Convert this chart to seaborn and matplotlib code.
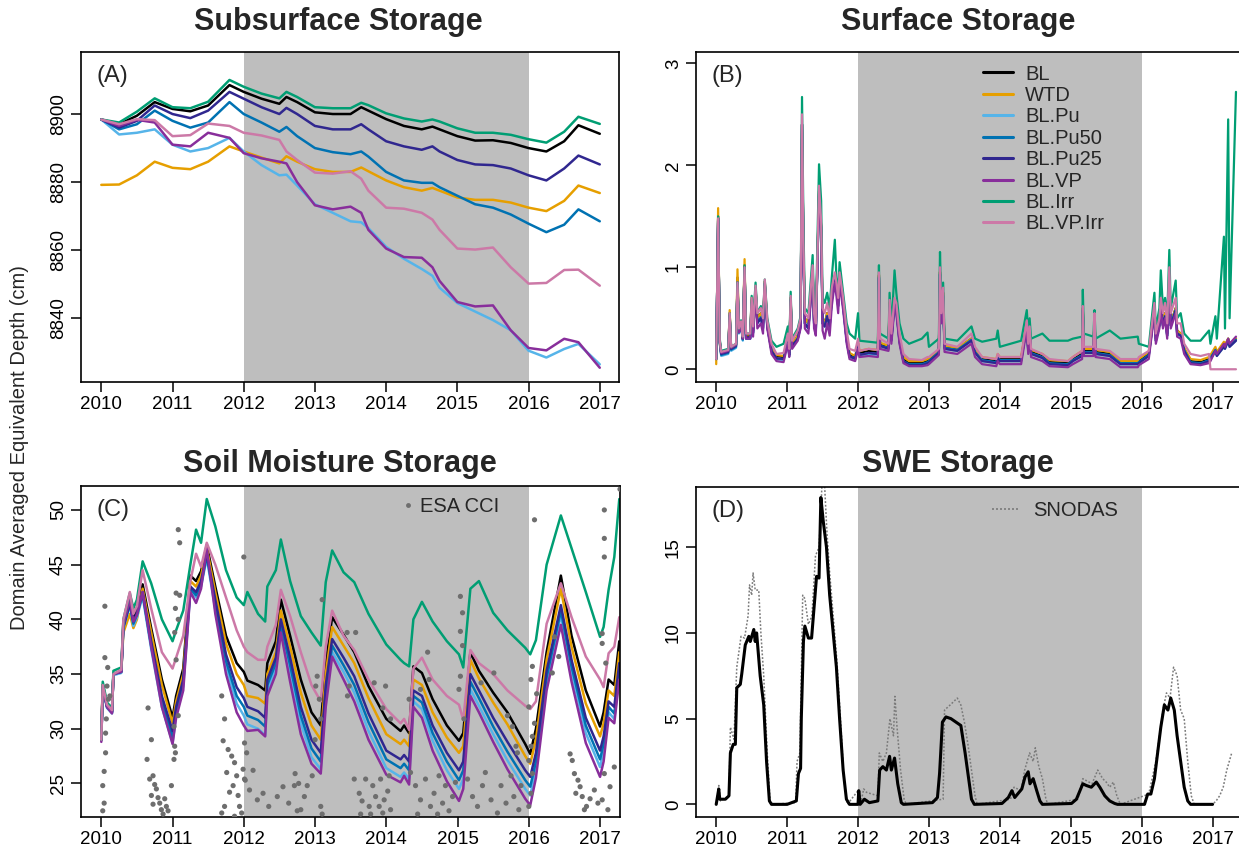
import numpy as np
import matplotlib
matplotlib.use("Agg")
import matplotlib.pyplot as plt
import seaborn as sns
from matplotlib.lines import Line2D

# ---------------- data ----------------
names = ["BL", "WTD", "BL.Pu", "BL.Pu50", "BL.Pu25", "BL.VP", "BL.Irr", "BL.VP.Irr"]
colors = ["black", "#E69F00", "#56B4E9", "#0072B2", "#30278F", "#882E9B", "#009E73", "#CC79A7"]

# (A) subsurface storage
t_sub = [2010.0, 2010.25, 2010.5, 2010.75, 2011.0, 2011.25, 2011.5, 2011.8, 2012.0, 2012.25,
         2012.5, 2012.6, 2012.75, 2013.0, 2013.25, 2013.5, 2013.65, 2013.75, 2014.0, 2014.25,
         2014.5, 2014.65, 2014.75, 2015.0, 2015.25, 2015.5, 2015.75, 2016.0, 2016.25, 2016.5,
         2016.7, 2017.0]
sub_bl = [8898.4, 8897.0, 8899.5, 8903.5, 8901.5, 8900.8, 8902.5, 8908.5, 8906.5, 8904.5,
          8903.0, 8905.0, 8903.5, 8900.5, 8900.0, 8900.0, 8902.0, 8901.0, 8898.5, 8896.5,
          8895.5, 8896.3, 8895.5, 8893.5, 8892.2, 8892.3, 8891.5, 8890.0, 8889.0, 8892.0,
          8896.7, 8894.2]
sub_wtd = [8879.2, 8879.3, 8882.0, 8886.0, 8884.2, 8883.8, 8886.0, 8890.5, 8889.0, 8887.2,
           8885.5, 8887.6, 8886.0, 8883.8, 8883.0, 8883.0, 8884.3, 8883.2, 8880.5, 8878.5,
           8877.5, 8878.3, 8877.5, 8875.5, 8874.8, 8874.8, 8874.0, 8872.5, 8871.5, 8874.5,
           8879.0, 8876.8]
sub_pu = [8898.4, 8894.0, 8894.5, 8895.5, 8891.0, 8889.0, 8890.0, 8893.0, 8889.0, 8885.0,
          8882.0, 8882.2, 8879.0, 8873.5, 8871.0, 8868.5, 8868.2, 8866.5, 8861.0, 8857.5,
          8854.5, 8852.5, 8849.0, 8844.5, 8842.0, 8839.5, 8836.5, 8830.5, 8828.5, 8831.0,
          8832.5, 8826.5]
sub_pu50 = [8898.4, 8895.5, 8897.0, 8901.0, 8898.0, 8896.0, 8897.5, 8903.5, 8900.0, 8897.5,
            8894.8, 8896.2, 8893.5, 8890.0, 8888.8, 8888.2, 8889.0, 8887.5, 8883.0, 8880.5,
            8879.8, 8879.8, 8878.5, 8876.0, 8873.5, 8872.5, 8870.5, 8867.8, 8865.3, 8867.5,
            8872.0, 8868.5]
sub_pu25 = [8898.4, 8896.0, 8898.0, 8902.5, 8900.0, 8898.8, 8901.0, 8906.5, 8904.5, 8902.0,
            8900.0, 8901.8, 8900.0, 8896.5, 8895.5, 8895.5, 8897.0, 8895.5, 8892.0, 8890.5,
            8889.5, 8890.5, 8889.0, 8886.5, 8885.2, 8885.0, 8884.0, 8882.0, 8880.5, 8884.0,
            8887.8, 8885.2]
sub_vp = [8898.4, 8896.5, 8898.3, 8897.5, 8891.0, 8890.5, 8894.5, 8893.0, 8888.5, 8887.0,
          8886.0, 8885.5, 8880.0, 8873.2, 8872.0, 8872.8, 8871.0, 8866.0, 8860.5, 8858.0,
          8857.8, 8855.0, 8851.0, 8844.8, 8843.5, 8843.8, 8836.5, 8831.3, 8830.6, 8834.0,
          8833.0, 8825.5]
sub_irr = [8898.4, 8897.5, 8900.7, 8904.6, 8902.0, 8901.7, 8903.6, 8910.0, 8908.0, 8906.0,
           8904.6, 8906.5, 8905.0, 8902.0, 8901.7, 8901.7, 8903.3, 8902.6, 8900.2, 8898.7,
           8897.8, 8898.4, 8897.8, 8895.8, 8894.5, 8894.5, 8893.9, 8892.6, 8891.6, 8894.8,
           8899.2, 8897.1]
sub_vpirr = [8898.4, 8897.0, 8898.5, 8898.2, 8893.5, 8893.8, 8897.2, 8896.5, 8894.5, 8893.7,
             8892.4, 8889.0, 8886.5, 8882.8, 8882.5, 8883.2, 8881.0, 8877.5, 8872.5, 8872.2,
             8871.0, 8869.0, 8866.0, 8860.5, 8860.2, 8860.8, 8855.0, 8850.2, 8850.4, 8854.2,
             8854.3, 8849.6]

# (B) surface storage
t_surf = [2010.000, 2010.027, 2010.050, 2010.070, 2010.170, 2010.190, 2010.210, 2010.280, 2010.300, 2010.320,
          2010.350, 2010.375, 2010.400, 2010.420, 2010.480, 2010.500, 2010.520, 2010.555, 2010.580, 2010.630,
          2010.660, 2010.685, 2010.720, 2010.780, 2010.850, 2010.950, 2011.010, 2011.030, 2011.050, 2011.070,
          2011.150, 2011.190, 2011.210, 2011.230, 2011.250, 2011.300, 2011.360, 2011.380, 2011.405, 2011.450,
          2011.480, 2011.500, 2011.530, 2011.565, 2011.600, 2011.630, 2011.673, 2011.695, 2011.720, 2011.740,
          2011.790, 2011.840, 2011.880, 2011.960, 2012.000, 2012.020, 2012.150, 2012.280, 2012.295, 2012.310,
          2012.430, 2012.445, 2012.470, 2012.515, 2012.540, 2012.585, 2012.640, 2012.720, 2012.900, 2012.980,
          2013.000, 2013.140, 2013.156, 2013.175, 2013.200, 2013.220, 2013.400, 2013.600, 2013.650, 2013.750,
          2013.950, 2013.970, 2014.000, 2014.300, 2014.380, 2014.400, 2014.420, 2014.440, 2014.600, 2014.700,
          2014.960, 2015.030, 2015.160, 2015.170, 2015.185, 2015.320, 2015.335, 2015.350, 2015.550, 2015.700,
          2015.945, 2015.960, 2016.100, 2016.180, 2016.200, 2016.250, 2016.270, 2016.300, 2016.330, 2016.360,
          2016.390, 2016.410, 2016.480, 2016.500, 2016.550, 2016.600, 2016.690, 2016.830, 2016.950, 2016.970,
          2017.040, 2017.060, 2017.160, 2017.175, 2017.220, 2017.240, 2017.330]
surf_bl = [.10, 1.50, .28, .16, .18, .55, .21, .24, .90, .38,
           .45, .30, 1.02, .33, .33, .68, .38, .80, .50, .55,
           .45, .86, .45, .20, .13, .12, .30, .16, .70, .24,
           .33, .45, 2.40, 1.20, .50, .45, .98, .48, .40, 1.75,
           1.40, .50, .45, .55, .45, .70, .90, .80, .65, .92,
           .65, .32, .15, .12, .25, .16, .18, .17, .92, .25,
           .22, .65, .30, .68, .60, .30, .10, .06, .06, .08,
           .09, .18, .95, .50, .75, .22, .20, .30, .18, .10,
           .08, .13, .10, .10, .45, .20, .38, .17, .13, .07,
           .06, .10, .15, .60, .18, .18, .50, .17, .15, .06,
           .06, .08, .15, .60, .30, .45, .65, .45, .55, .35,
           .85, .45, .60, .38, .35, .20, .08, .07, .10, .12,
           .20, .15, .25, .22, .30, .25, .30]
surf_wtd = [.05, 1.58, .25, .15, .17, .58, .21, .24, .98, .40,
            .47, .32, 1.08, .34, .34, .70, .40, .80, .50, .55,
            .45, .86, .45, .20, .14, .13, .30, .17, .70, .25,
            .33, .45, 2.40, 1.20, .50, .45, .98, .48, .40, 1.75,
            1.40, .50, .45, .55, .45, .70, .90, .80, .65, .92,
            .65, .32, .16, .13, .26, .18, .20, .19, .93, .26,
            .23, .66, .31, .68, .60, .30, .12, .08, .08, .10,
            .11, .19, .96, .50, .75, .23, .21, .30, .19, .12,
            .10, .15, .12, .12, .46, .22, .39, .19, .15, .09,
            .08, .12, .18, .60, .20, .20, .50, .19, .17, .08,
            .08, .10, .17, .60, .30, .45, .65, .45, .55, .35,
            .85, .45, .60, .38, .35, .21, .10, .09, .12, .14,
            .22, .17, .27, .24, .30, .25, .30]
surf_pu = [.10, 1.48, .25, .13, .15, .52, .18, .21, .85, .35,
           .42, .28, 1.00, .30, .30, .65, .35, .78, .45, .50,
           .40, .84, .42, .18, .10, .09, .28, .13, .68, .22,
           .30, .42, 2.40, 1.15, .45, .40, .95, .45, .37, 1.72,
           1.38, .45, .42, .52, .42, .68, .88, .78, .62, .90,
           .62, .28, .12, .10, .22, .13, .15, .14, .90, .22,
           .20, .62, .28, .65, .58, .27, .08, .04, .04, .06,
           .07, .16, .93, .48, .72, .20, .18, .28, .16, .08,
           .06, .11, .08, .08, .43, .18, .36, .15, .11, .05,
           .04, .08, .13, .58, .16, .16, .48, .15, .13, .05,
           .05, .06, .13, .58, .28, .43, .62, .43, .52, .33,
           .82, .43, .58, .35, .33, .18, .06, .05, .08, .10,
           .18, .13, .22, .20, .28, .22, .28]
surf_pu50 = [.10, 1.48, .26, .14, .16, .52, .19, .22, .85, .36,
             .43, .29, 1.00, .30, .30, .65, .36, .78, .46, .51,
             .41, .84, .42, .18, .10, .10, .28, .14, .68, .22,
             .30, .42, 2.40, 1.15, .45, .40, .95, .45, .37, 1.72,
             1.38, .45, .42, .52, .42, .68, .88, .78, .62, .90,
             .62, .28, .12, .11, .22, .14, .16, .15, .90, .23,
             .21, .62, .29, .65, .58, .28, .08, .05, .05, .07,
             .08, .17, .93, .48, .72, .21, .19, .29, .17, .09,
             .07, .12, .09, .09, .43, .19, .37, .16, .12, .06,
             .05, .09, .14, .58, .17, .17, .48, .16, .14, .06,
             .06, .07, .14, .58, .28, .43, .62, .43, .52, .33,
             .82, .43, .58, .35, .33, .19, .07, .06, .09, .11,
             .19, .14, .23, .21, .28, .23, .29]
surf_pu25 = [.10, 1.48, .27, .15, .17, .53, .20, .23, .85, .38,
             .44, .30, 1.00, .31, .31, .66, .36, .78, .45, .50,
             .40, .84, .42, .18, .11, .10, .28, .14, .68, .23,
             .30, .42, 2.40, 1.15, .45, .40, .95, .45, .37, 1.72,
             1.38, .45, .42, .52, .42, .68, .88, .78, .62, .90,
             .62, .28, .13, .10, .23, .14, .16, .15, .90, .23,
             .20, .62, .28, .65, .58, .27, .08, .04, .04, .06,
             .07, .16, .93, .48, .72, .20, .18, .28, .16, .08,
             .06, .11, .08, .08, .43, .18, .36, .15, .11, .05,
             .04, .08, .13, .58, .16, .16, .48, .15, .13, .05,
             .05, .06, .13, .58, .28, .43, .62, .43, .52, .33,
             .82, .43, .58, .35, .33, .18, .06, .05, .08, .10,
             .18, .13, .22, .20, .28, .22, .28]
surf_vp = [.10, 1.48, .27, .16, .18, .52, .21, .24, .82, .36,
           .43, .30, .98, .30, .30, .64, .32, .75, .40, .45,
           .35, .82, .40, .15, .08, .07, .25, .12, .66, .20,
           .28, .40, 2.40, 1.10, .40, .35, .92, .40, .33, 1.70,
           1.35, .38, .30, .45, .33, .62, .85, .72, .55, .85,
           .58, .25, .10, .08, .20, .12, .13, .12, .88, .20,
           .18, .60, .25, .62, .55, .25, .06, .03, .03, .04,
           .05, .14, .90, .45, .70, .17, .15, .25, .12, .05,
           .03, .08, .05, .05, .40, .15, .33, .12, .08, .03,
           .02, .05, .10, .55, .13, .13, .45, .12, .10, .02,
           .02, .04, .10, .55, .25, .40, .60, .40, .50, .30,
           .80, .40, .55, .32, .30, .15, .05, .04, .06, .08,
           .18, .15, .25, .22, .30, .25, .32]
surf_irr = [.10, 1.50, .30, .18, .20, .55, .22, .25, .85, .40,
            .48, .32, 1.02, .35, .35, .72, .45, .85, .55, .62,
            .50, .88, .50, .28, .22, .25, .42, .22, .76, .30,
            .40, .52, 2.67, 1.45, .60, .55, 1.12, .60, .50, 2.01,
            1.65, .70, .65, .75, .60, .90, 1.27, .90, .75, 1.05,
            .75, .45, .35, .30, .55, .28, .27, .26, 1.02, .35,
            .30, .75, .40, .97, .75, .45, .30, .25, .30, .36,
            .22, .30, 1.15, .60, .85, .30, .28, .42, .30, .27,
            .30, .38, .22, .28, .58, .35, .50, .30, .35, .28,
            .28, .30, .32, .78, .35, .32, .58, .30, .38, .30,
            .32, .25, .22, .75, .40, .60, .97, .60, .70, .50,
            1.17, .60, .87, .50, .55, .35, .28, .28, .38, .25,
            .52, .30, 1.30, .40, 2.45, .50, 2.72]
surf_vpirr = [.10, 1.48, .28, .17, .19, .55, .22, .25, .85, .40,
              .47, .32, 1.00, .35, .35, .70, .42, .82, .55, .60,
              .50, .88, .48, .25, .15, .16, .35, .20, .72, .28,
              .38, .50, 2.50, 1.25, .55, .50, 1.02, .55, .45, 1.80,
              1.45, .60, .55, .65, .50, .80, .95, .85, .70, .95,
              .70, .38, .20, .18, .30, .18, .20, .19, .95, .30,
              .25, .68, .35, .70, .65, .35, .15, .10, .09, .12,
              .12, .20, 1.00, .55, .80, .25, .22, .35, .22, .12,
              .10, .15, .12, .12, .48, .25, .42, .20, .15, .10,
              .08, .12, .18, .62, .22, .22, .55, .20, .18, .10,
              .10, .12, .18, .65, .35, .50, .70, .55, .65, .45,
              1.00, .55, .70, .45, .45, .25, .15, .13, .15, .00,
              .00, .00, .00, .00, .00, .00, .00]

# (C) soil moisture storage
t_soil = [2010.00, 2010.02, 2010.08, 2010.15, 2010.17, 2010.28, 2010.31, 2010.40, 2010.45, 2010.50,
          2010.58, 2010.70, 2010.85, 2011.00, 2011.05, 2011.15, 2011.25, 2011.33, 2011.40, 2011.48,
          2011.60, 2011.75, 2011.90, 2012.00, 2012.05, 2012.20, 2012.30, 2012.33, 2012.45, 2012.52,
          2012.65, 2012.80, 2012.95, 2013.08, 2013.15, 2013.24, 2013.40, 2013.55, 2013.75, 2014.00,
          2014.20, 2014.25, 2014.32, 2014.38, 2014.50, 2014.65, 2014.85, 2015.02, 2015.08, 2015.18,
          2015.30, 2015.50, 2015.70, 2015.95, 2016.02, 2016.10, 2016.25, 2016.45, 2016.60, 2016.80,
          2017.00, 2017.05, 2017.12, 2017.20, 2017.27]
soil_bl = [29.0, 34.0, 32.2, 31.6, 35.0, 35.3, 39.8, 42.0, 40.2, 41.0,
           43.2, 39.2, 34.5, 31.0, 33.0, 35.5, 44.0, 43.5, 44.4, 46.8,
           43.0, 38.5, 36.0, 35.2, 34.4, 34.0, 33.5, 36.0, 38.0, 41.8,
           38.5, 34.5, 31.5, 30.3, 36.0, 40.2, 38.6, 37.0, 33.9, 30.9,
           29.8, 30.3, 29.6, 35.7, 35.1, 32.7, 30.3, 28.9, 29.6, 37.0,
           35.3, 33.3, 31.5, 28.6, 27.7, 30.0, 37.0, 44.0, 38.5, 33.5,
           30.2, 31.5, 34.5, 34.0, 38.0]
soil_wtd = [29.5, 34.0, 32.2, 31.6, 35.0, 35.2, 38.8, 40.5, 39.2, 40.0,
            42.8, 38.8, 34.0, 30.5, 32.5, 35.0, 43.5, 43.0, 44.0, 46.5,
            42.5, 37.8, 35.0, 34.0, 33.0, 32.8, 32.3, 35.0, 37.0, 40.8,
            37.5, 33.3, 30.3, 29.0, 35.0, 39.3, 37.6, 36.0, 32.8, 29.5,
            28.6, 29.0, 28.4, 34.5, 34.0, 31.5, 29.2, 27.8, 28.4, 36.3,
            34.6, 32.4, 30.4, 27.5, 26.8, 29.0, 36.3, 42.8, 37.5, 32.3,
            29.3, 30.5, 33.5, 33.0, 37.0]
soil_pu = [29.0, 33.7, 31.9, 31.4, 34.9, 35.1, 39.2, 41.3, 39.4, 40.2,
           42.1, 37.3, 32.0, 28.7, 31.2, 33.9, 42.6, 42.0, 43.0, 45.6,
           40.9, 35.7, 32.3, 31.2, 30.4, 30.0, 29.4, 33.5, 35.6, 39.1,
           35.2, 30.5, 27.4, 26.3, 32.7, 37.0, 35.2, 33.3, 29.8, 26.4,
           25.6, 26.0, 25.4, 32.5, 31.8, 28.9, 26.2, 24.5, 25.4, 33.6,
           32.1, 29.5, 27.1, 24.5, 23.9, 26.3, 34.1, 40.4, 35.1, 29.6,
           26.5, 28.0, 31.5, 30.9, 35.0]
soil_pu50 = [29.0, 33.8, 32.0, 31.5, 35.0, 35.2, 39.3, 41.4, 39.6, 40.4,
             42.3, 37.6, 32.5, 29.2, 31.6, 34.2, 42.8, 42.2, 43.2, 45.8,
             41.3, 36.2, 33.0, 32.0, 31.2, 30.8, 30.2, 34.0, 36.0, 39.5,
             35.8, 31.2, 28.2, 27.0, 33.3, 37.6, 35.8, 34.0, 30.6, 27.2,
             26.4, 26.8, 26.2, 33.0, 32.4, 29.6, 27.0, 25.3, 26.2, 34.3,
             32.8, 30.2, 27.9, 25.3, 24.7, 27.0, 34.7, 40.8, 35.7, 30.3,
             27.2, 28.6, 32.0, 31.4, 35.4]
soil_pu25 = [29.0, 33.8, 32.0, 31.5, 35.0, 35.2, 39.3, 41.5, 39.8, 40.6,
             42.5, 38.0, 33.0, 29.8, 32.0, 34.5, 43.0, 42.5, 43.5, 46.0,
             41.8, 36.8, 33.8, 32.8, 32.0, 31.6, 31.0, 34.5, 36.5, 40.0,
             36.5, 32.0, 29.0, 27.8, 34.0, 38.2, 36.5, 34.8, 31.4, 28.0,
             27.2, 27.6, 27.0, 33.5, 33.0, 30.3, 27.8, 26.2, 27.0, 35.0,
             33.5, 31.0, 28.8, 26.2, 25.6, 27.8, 35.3, 41.3, 36.3, 31.0,
             28.0, 29.3, 32.5, 32.0, 36.0]
soil_vp = [28.8, 33.8, 32.0, 31.4, 35.0, 35.2, 39.5, 41.8, 39.8, 40.4,
           42.5, 37.5, 32.0, 28.6, 31.0, 33.5, 42.5, 41.5, 42.8, 46.5,
           40.5, 35.0, 31.5, 30.3, 29.8, 29.9, 29.3, 33.0, 35.0, 38.8,
           34.3, 29.5, 26.8, 25.9, 32.0, 36.6, 34.5, 32.5, 29.0, 25.8,
           25.1, 25.7, 24.9, 32.0, 31.0, 28.0, 25.2, 23.4, 24.5, 33.0,
           31.5, 28.8, 26.3, 23.6, 23.0, 25.5, 33.5, 39.5, 34.3, 28.7,
           25.6, 27.0, 31.0, 30.5, 34.5]
soil_irr = [29.0, 34.3, 32.4, 31.9, 35.3, 35.6, 40.0, 42.4, 41.0, 41.8,
            45.3, 43.3, 40.0, 38.0, 39.0, 40.8, 45.0, 48.2, 47.0, 51.0,
            48.5, 44.5, 42.0, 41.3, 42.5, 40.5, 39.8, 43.0, 44.5, 47.3,
            43.5, 40.3, 38.8, 37.6, 43.4, 46.3, 44.3, 43.4, 40.5, 37.7,
            36.3, 36.0, 35.7, 40.0, 41.6, 39.8, 38.0, 36.8, 35.6, 42.8,
            43.5, 40.6, 39.0, 37.4, 36.8, 38.1, 45.0, 49.5, 46.5, 42.5,
            38.4, 39.3, 42.7, 45.7, 51.0]
soil_vpirr = [29.0, 34.0, 32.2, 31.7, 35.0, 35.4, 40.0, 42.5, 40.5, 41.2,
              44.5, 41.0, 37.0, 35.5, 36.5, 38.5, 43.5, 46.0, 44.8, 47.0,
              45.0, 42.0, 39.0, 37.5, 37.0, 36.3, 36.3, 37.5, 39.5, 42.7,
              40.3, 37.0, 34.0, 32.5, 37.5, 40.8, 38.5, 37.2, 34.5, 31.8,
              30.5, 30.9, 29.9, 35.5, 36.5, 34.5, 33.0, 32.2, 30.8, 37.2,
              36.0, 35.0, 33.5, 32.1, 31.8, 32.5, 39.6, 43.3, 40.2, 36.6,
              34.5, 33.8, 36.9, 37.5, 40.2]

# ESA CCI satellite soil moisture
esa_t = [2010.05, 2010.05, 2010.09, 2010.08, 2010.10, 2010.07, 2010.06, 2010.06, 2010.04, 2010.02,
         2010.04, 2010.02, 2010.12,
         2010.656, 2010.703, 2010.642, 2010.726, 2010.679, 2010.749, 2010.773, 2010.703, 2010.796, 2010.82,
         2010.726, 2010.843, 2010.89, 2010.913, 2010.937, 2010.867, 2010.984, 2011.02, 2011.04, 2011.03,
         2011.05, 2011.10, 2011.08, 2011.10, 2011.04, 2011.08, 2011.03, 2011.05, 2011.08, 2011.02,
         2011.69, 2011.73, 2011.71, 2011.78, 2011.83, 2011.87, 2011.90, 2011.85, 2011.92, 2011.94,
         2011.97, 2011.76, 2011.80, 2011.73, 2011.69, 2011.87,
         2012.00, 2012.01, 2012.04, 2011.99, 2012.01, 2012.02, 2012.08, 2012.13, 2012.19, 2012.27,
         2012.35, 2012.47, 2012.55, 2012.63, 2012.72, 2012.77, 2012.80,
         2013.10, 2013.03, 2013.01, 2013.06, 2013.08, 2013.00, 2012.96, 2012.89, 2012.85, 2012.75,
         2013.08, 2013.10, 2012.71,
         2013.45, 2013.57, 2013.455, 2013.48, 2013.83, 2013.95, 2013.99, 2014.06,
         2013.55, 2013.62, 2013.66, 2013.71, 2013.76, 2013.81, 2013.85, 2013.90, 2013.92, 2013.97,
         2014.02, 2014.06, 2013.64, 2013.78, 2013.95, 2014.04,
         2014.32, 2014.58, 2014.60, 2014.48, 2014.34, 2014.41, 2014.48, 2014.55, 2014.62, 2014.67,
         2014.74, 2014.79, 2014.83, 2014.88, 2014.93, 2014.97, 2014.44, 2014.72,
         2015.04, 2015.07, 2015.04, 2015.07, 2015.04, 2015.02, 2015.09,
         2015.33, 2015.51, 2015.70, 2015.77, 2015.82, 2015.84,
         2015.14, 2015.21, 2015.28, 2015.35, 2015.39, 2015.47, 2015.56, 2015.61, 2015.68, 2015.75,
         2015.79, 2015.86, 2015.89,
         2016.08, 2016.05, 2016.03, 2016.11, 2016.00, 2016.08, 2016.05, 2016.03, 2016.00, 2016.05,
         2016.03, 2016.00, 2016.36, 2016.42, 2016.33,
         2016.58, 2016.61, 2016.64, 2016.69, 2016.75, 2016.81, 2016.86, 2016.66, 2016.72, 2016.78,
         2016.92, 2016.97,
         2017.06, 2017.06, 2017.06, 2017.03, 2017.03, 2017.08, 2017.06, 2017.03, 2017.11, 2017.28,
         2017.14, 2017.20]
esa_v = [41.2, 36.5, 35.6, 33.9, 32.7, 30.9, 29.6, 27.8, 26.1, 24.8,
         23.2, 22.5, 33.0,
         31.9, 29.0, 27.2, 25.7, 25.4, 24.9, 24.5, 23.9, 23.7, 23.2,
         23.1, 22.6, 23.6, 22.9, 22.5, 22.2, 24.8, 27.2, 27.8, 28.4,
         42.4, 42.2, 48.2, 47.0, 41.0, 40.0, 38.8, 36.3, 31.2, 30.2,
         33.0, 30.9, 28.9, 28.1, 27.5, 26.9, 25.7, 24.8, 23.9, 22.9,
         22.3, 26.0, 24.2, 22.9, 22.3, 22.0,
         45.7, 28.7, 27.8, 26.3, 25.4, 25.3, 24.4, 26.2, 23.5, 24.1,
         22.9, 23.8, 24.7, 23.2, 25.9, 25.0, 22.6,
         41.8, 34.8, 33.9, 32.7, 30.9, 29.0, 25.7, 24.8, 23.8, 22.5,
         22.9, 22.2, 24.8,
         38.8, 38.8, 33.0, 33.9, 34.2, 31.9, 33.9, 30.9,
         25.4, 24.1, 23.4, 25.4, 22.9, 24.8, 23.8, 22.9, 25.4, 23.5,
         24.3, 22.6, 22.2, 22.2, 22.3, 25.7,
         32.7, 37.0, 34.5, 33.6, 26.0, 24.8, 23.5, 25.4, 22.9, 24.1,
         25.7, 23.2, 24.8, 22.5, 23.8, 25.1, 22.2, 22.2,
         42.1, 40.6, 38.9, 37.6, 34.8, 33.6, 30.9,
         34.2, 35.1, 31.2, 30.2, 28.4, 27.8,
         25.4, 23.8, 22.9, 24.8, 26.0, 23.5, 22.3, 24.8, 23.2, 25.7,
         23.8, 22.6, 24.8,
         49.1, 35.7, 34.5, 33.2, 32.0, 30.5, 29.3, 28.4, 27.1, 25.9,
         24.1, 22.9, 38.4, 36.6, 35.1,
         27.7, 27.1, 25.9, 25.3, 23.8, 22.9, 23.6, 24.1, 24.7, 22.6,
         24.4, 23.2,
         50.0, 47.4, 45.7, 38.7, 37.8, 36.0, 25.9, 23.5, 22.6, 51.9,
         24.7, 26.5]

# (D) snow water equivalent
t_swe = [2010.00, 2010.036, 2010.05, 2010.13, 2010.18, 2010.20, 2010.24, 2010.27, 2010.29, 2010.34,
         2010.36, 2010.41, 2010.46, 2010.48, 2010.53, 2010.55, 2010.57, 2010.60, 2010.62, 2010.67,
         2010.71, 2010.75, 2010.78, 2011.00, 2011.13, 2011.16, 2011.19, 2011.20, 2011.23, 2011.25,
         2011.30, 2011.345, 2011.39, 2011.415, 2011.45, 2011.476, 2011.51, 2011.555, 2011.60, 2011.65,
         2011.695, 2011.74, 2011.79, 2011.836, 2011.88, 2012.00, 2012.01, 2012.03, 2012.09, 2012.16,
         2012.28, 2012.305, 2012.35, 2012.40, 2012.445, 2012.47, 2012.515, 2012.56, 2012.61, 2012.64,
         2013.05, 2013.12, 2013.15, 2013.19, 2013.24, 2013.31, 2013.38, 2013.45, 2013.51, 2013.56,
         2013.60, 2013.64, 2014.03, 2014.12, 2014.17, 2014.21, 2014.31, 2014.355, 2014.40, 2014.425,
         2014.47, 2014.52, 2014.565, 2014.60, 2015.01, 2015.08, 2015.17, 2015.22, 2015.29, 2015.36,
         2015.41, 2015.48, 2015.55, 2015.62, 2015.66, 2016.04, 2016.085, 2016.13, 2016.18, 2016.225,
         2016.27, 2016.32, 2016.37, 2016.41, 2016.46, 2016.50, 2016.55, 2016.60, 2016.65, 2016.69,
         2017.00]
swe_bl = [0, 0.9, 0.3, 0.3, 0.5, 3.0, 3.5, 3.5, 6.8, 7.0,
          7.6, 9.3, 9.8, 9.5, 10.2, 9.5, 10.0, 8.5, 7.5, 5.8,
          2.5, 0.2, 0, 0, 0.2, 1.8, 2.1, 5.0, 9.5, 10.4,
          9.7, 9.7, 12.0, 13.3, 13.2, 17.9, 16.5, 15.0, 12.2, 10.0,
          8.0, 5.0, 2.0, 0.3, 0, 0, 0.8, 0, 0.3, 0.1,
          0.2, 2.0, 2.2, 2.0, 2.8, 2.0, 2.7, 1.2, 0.1, 0,
          0.1, 0.4, 1.8, 4.8, 5.1, 5.0, 4.8, 4.6, 3.0, 1.5,
          0.3, 0, 0.05, 0.4, 0.8, 0.4, 0.9, 1.6, 1.9, 1.2,
          1.5, 0.8, 0.2, 0, 0.05, 0.3, 1.2, 1.1, 1.0, 1.3,
          1.0, 0.5, 0.2, 0.05, 0, 0, 0.6, 0.6, 1.5, 3.0,
          4.5, 5.8, 5.5, 6.2, 5.5, 4.0, 2.5, 1.0, 0.2, 0,
          0]
t_snodas = [2010.00, 2010.036, 2010.06, 2010.18, 2010.20, 2010.25, 2010.29, 2010.35, 2010.40, 2010.45,
            2010.47, 2010.50, 2010.52, 2010.55, 2010.60, 2010.63, 2010.67, 2010.72, 2010.76, 2010.80,
            2011.12, 2011.14, 2011.18, 2011.22, 2011.25, 2011.30, 2011.35, 2011.40, 2011.45, 2011.49,
            2011.53, 2011.56, 2011.60, 2011.65, 2011.70, 2011.76, 2011.80, 2011.85, 2012.00, 2012.05,
            2012.08, 2012.12, 2012.20, 2012.28, 2012.30, 2012.35, 2012.40, 2012.45, 2012.50, 2012.52,
            2012.55, 2012.60, 2012.65, 2012.68, 2013.20, 2013.22, 2013.30, 2013.40, 2013.45, 2013.50,
            2013.55, 2013.60, 2013.65, 2013.68, 2014.15, 2014.20, 2014.30, 2014.35, 2014.42, 2014.47,
            2014.50, 2014.55, 2014.60, 2014.65, 2014.68, 2015.10, 2015.17, 2015.30, 2015.38, 2015.45,
            2015.50, 2015.55, 2015.60, 2015.65, 2015.70, 2016.10, 2016.20, 2016.30, 2016.35, 2016.40,
            2016.45, 2016.50, 2016.55, 2016.60, 2016.65, 2016.70, 2016.74, 2017.00, 2017.05, 2017.10,
            2017.15, 2017.20, 2017.27]
snodas = [0, 1.1, 0.2, 0.5, 4.5, 3.8, 8.0, 9.8, 9.7, 11.0,
          12.8, 12.2, 13.5, 12.5, 12.5, 10.0, 7.5, 3.0, 0.2, 0,
          0.1, 2.5, 3.0, 12.2, 12.0, 10.5, 11.0, 14.5, 15.0, 18.5,
          18.5, 16.0, 13.5, 11.0, 8.5, 4.5, 1.5, 0, 0.8, 0.3,
          0.9, 0.7, 0.6, 0.5, 3.0, 2.5, 3.0, 5.0, 4.0, 6.3,
          4.5, 2.0, 0.3, 0, 0.3, 5.5, 5.8, 6.2, 5.8, 4.8,
          3.5, 2.0, 0.5, 0, 0.3, 1.0, 0.8, 2.0, 3.0, 2.5,
          3.3, 2.2, 1.5, 0.3, 0, 0.3, 1.5, 1.2, 2.0, 1.5,
          1.3, 1.0, 1.3, 0.5, 0, 0.6, 2.5, 5.5, 6.5, 6.2,
          8.0, 7.5, 5.5, 5.0, 2.5, 0.5, 0, 0, 0.2, 0.5,
          1.0, 2.0, 3.0]

# ---------------- plotting ----------------
sns.set_style("ticks")
plt.rcParams['font.family'] = ['Liberation Sans', 'DejaVu Sans']
plt.rcParams.update({
    'axes.edgecolor': 'black', 'axes.linewidth': 1.2,
    'xtick.color': 'black', 'ytick.color': 'black',
    'xtick.major.size': 7, 'ytick.major.size': 7,
    'xtick.major.width': 1.1, 'ytick.major.width': 1.1,
})

W, H = 1239, 849
fig = plt.figure(figsize=(W / 100, H / 100), dpi=100)


def px_axes(left, top, right, bottom):
    return fig.add_axes([left / W, 1 - bottom / H, (right - left) / W, (bottom - top) / H])


axA = px_axes(81, 51.7, 619, 381.7)
axB = px_axes(696, 51.7, 1242, 381.7)
axC = px_axes(81, 486, 620, 816.7)
axD = px_axes(696, 486.7, 1242, 816.7)


def setup(ax, xlim, ylim, yticks, label):
    ax.axvspan(2012, 2016, color="#BEBEBE", lw=0, zorder=0)
    ax.set_xlim(*xlim)
    ax.set_ylim(*ylim)
    ax.set_xticks(range(2010, 2018))
    ax.set_yticks(yticks)
    ax.tick_params(axis='both', labelsize=13.5, pad=3)
    ax.tick_params(axis='y', labelrotation=90)
    plt.setp(ax.get_yticklabels(), va='center')
    for s in ax.spines.values():
        s.set_visible(True)
    ax.set_xlabel("")
    ax.set_ylabel("")
    ax.annotate(label, xy=(0, 1), xycoords='axes fraction', xytext=(11, -17.5),
                textcoords='offset points', ha='left', va='center', fontsize=17)


def draw(ax, t, series, lw=1.6):
    for vals, c in zip(series, colors):
        sns.lineplot(x=t, y=vals, ax=ax, color=c, lw=lw, estimator=None, sort=False, legend=False)


draw(axA, t_sub, [sub_bl, sub_wtd, sub_pu, sub_pu50, sub_pu25, sub_vp, sub_irr, sub_vpirr], lw=1.8)
setup(axA, (2009.715, 2017.27), (8821.4, 8918.3), [8840, 8860, 8880, 8900], "(A)")

draw(axB, t_surf, [surf_bl, surf_wtd, surf_pu, surf_pu50, surf_pu25, surf_vp, surf_irr, surf_vpirr], lw=1.6)
setup(axB, (2009.715, 2017.415), (-0.122, 3.114), [0, 1, 2, 3], "(B)")

draw(axC, t_soil, [soil_bl, soil_wtd, soil_pu, soil_pu50, soil_pu25, soil_vp, soil_irr, soil_vpirr], lw=1.8)
sns.scatterplot(x=esa_t, y=esa_v, ax=axC, color="#6E6E6E", s=14, edgecolor='none', zorder=5, legend=False)
setup(axC, (2009.715, 2017.28), (21.96, 52.19), [25, 30, 35, 40, 45, 50], "(C)")

sns.lineplot(x=t_snodas, y=snodas, ax=axD, color="#7A7A7A", lw=1.1, ls=(0, (1.2, 1.2)),
             estimator=None, sort=False, legend=False)
sns.lineplot(x=t_swe, y=swe_bl, ax=axD, color="black", lw=2.2, estimator=None, sort=False, legend=False)
setup(axD, (2009.715, 2017.415), (-0.72, 18.53), [0, 5, 10, 15], "(D)")

# legends
handles = [Line2D([], [], color=c, lw=2.2) for c in colors]
axB.legend(handles, names, loc='upper left', bbox_to_anchor=(982.7 / W, 1 - 64.5 / H),
           bbox_transform=fig.transFigure, frameon=False, fontsize=14.5, handlelength=1.48,
           handletextpad=0.63, labelspacing=0.12, borderpad=0, borderaxespad=0)
axC.legend([Line2D([], [], ls='none', marker='o', ms=3.5, color="#6E6E6E", mec='none')], ["ESA CCI"],
           loc='upper left', bbox_to_anchor=(402 / W, 1 - 497 / H), bbox_transform=fig.transFigure,
           frameon=False, fontsize=14.5, handlelength=0.6, handletextpad=0.3, borderpad=0, borderaxespad=0)
axD.legend([Line2D([], [], color="#7A7A7A", lw=1.2, ls=(0, (1.2, 1.2)))], ["SNODAS"],
           loc='upper left', bbox_to_anchor=(991.7 / W, 1 - 501 / H), bbox_transform=fig.transFigure,
           frameon=False, fontsize=14.5, handlelength=1.32, handletextpad=0.73, borderpad=0, borderaxespad=0)

# titles and shared y label
for x, y, txt in [(338, 30, "Subsurface Storage"), (958, 30, "Surface Storage"),
                  (340, 472, "Soil Moisture Storage"), (958, 472, "SWE Storage")]:
    fig.text(x / W, 1 - y / H, txt, ha='center', va='baseline', fontsize=22, fontweight='bold')
fig.text(20 / W, 1 - 448 / H, "Domain Averaged Equivalent Depth (cm)", rotation=90,
         ha='center', va='center', fontsize=14.5)

fig.savefig("out.png", dpi=100)
